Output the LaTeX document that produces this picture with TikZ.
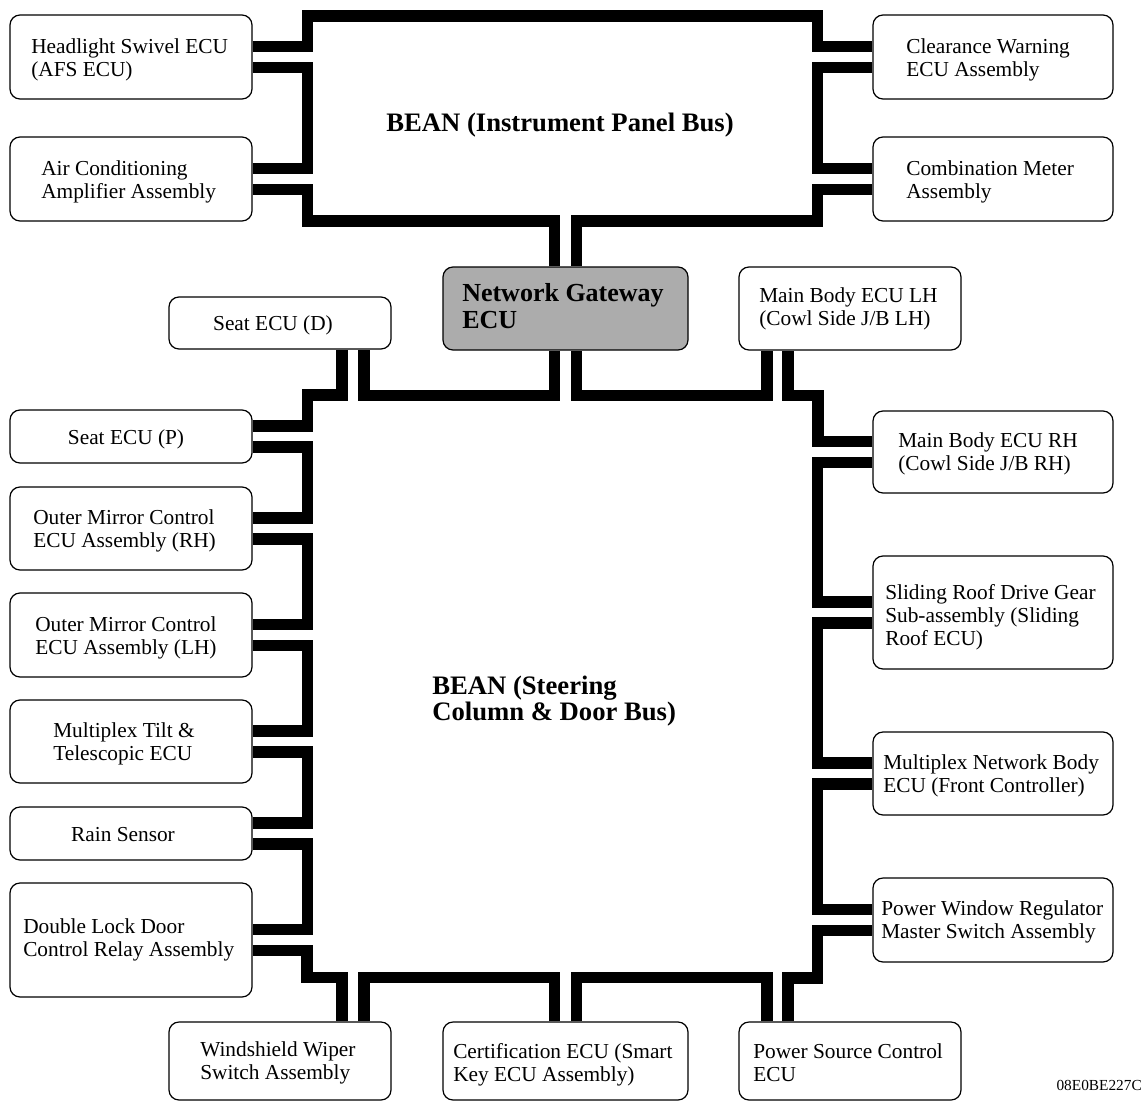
\documentclass[tikz,border=0pt]{standalone}
\usepackage{fontspec}
\setmainfont{Liberation Serif}
\usetikzlibrary{calc,fit}
\newcommand\leftlink[2]{\draw[bus] ($(#1.east)+(0,10.5)$) -| ($(#2.east)+(55,-10.5)$) -- ($(#2.east)+(0,-10.5)$);}
\newcommand\rightlink[2]{\draw[bus] ($(#1.west)+(0,-10.5)$) -| ($(#2.west)+(-55,10.5)$) -- ($(#2.west)+(0,10.5)$);}
\begin{document}
\begin{tikzpicture}[x=0.75pt,y=-0.75pt,
  bus/.style={line width=8.6pt, line join=miter, line cap=butt},
  ecu/.style={draw, line width=0.9pt, rounded corners=7.5pt, fill=white, inner sep=0pt},
  gwbox/.style={ecu, fill=gray!65},
  lbl/.style={inner sep=0pt, align=left, yshift=-2.25pt, font=\fontsize{16}{17.25}\selectfont},
  ctr/.style={inner sep=0pt, align=center, yshift=-1.5pt, font=\fontsize{16}{17.25}\selectfont},
  title/.style={inner sep=0pt, align=left, yshift=-2.25pt, font=\fontsize{20}{19}\selectfont\bfseries},
  gwtext/.style={inner sep=0pt, align=left, font=\fontsize{19.5}{20.5}\selectfont\bfseries},
  code/.style={inner sep=0pt, font=\fontsize{11.5}{13}\selectfont}]
\useasboundingbox (0,0) rectangle (1143,1103);
% boxes
\node[ecu, fit={(10,15) (252,99)}] (hl) {};
\node[ecu, fit={(10,137) (252,221)}] (ac) {};
\node[ecu, fit={(873,15) (1113,99)}] (cw) {};
\node[ecu, fit={(873,137) (1113,221)}] (cm) {};
\node[gwbox, fit={(443,267) (688,350)}] (gw) {};
\node[ecu, fit={(169,297) (391,349)}] (sd) {};
\node[ecu, fit={(739,267) (961,350)}] (mblh) {};
\node[ecu, fit={(10,410) (252,463)}] (sp) {};
\node[ecu, fit={(10,487) (252,570)}] (om1) {};
\node[ecu, fit={(10,593) (252,677)}] (om2) {};
\node[ecu, fit={(10,700) (252,783)}] (tilt) {};
\node[ecu, fit={(10,807) (252,860)}] (rain) {};
\node[ecu, fit={(10,883) (252,997)}] (dl) {};
\node[ecu, fit={(169,1022) (391,1100)}] (ws) {};
\node[ecu, fit={(443,1022) (688,1100)}] (ce) {};
\node[ecu, fit={(739,1022) (961,1100)}] (ps) {};
\node[ecu, fit={(873,411) (1113,493)}] (mbrh) {};
\node[ecu, fit={(873,556) (1113,669)}] (sr) {};
\node[ecu, fit={(873,732) (1113,815)}] (mnb) {};
\node[ecu, fit={(873,878) (1113,962)}] (pw) {};
% labels
\node[lbl, anchor=west] (hl-t) at (31,57) {Headlight Swivel ECU\\(AFS ECU)};
\node[lbl, anchor=west] (ac-t) at (41,179) {Air Conditioning\\Amplifier Assembly};
\node[lbl, anchor=west] (cw-t) at (906,57) {Clearance Warning\\ECU Assembly};
\node[lbl, anchor=west] (cm-t) at (906,179) {Combination Meter\\Assembly};
\node[gwtext, anchor=west] (gw-t) at (462,306) {Network Gateway\\ECU};
\node[ctr] (sd-t) at (273,323) {Seat ECU (D)};
\node[lbl, anchor=west] (mblh-t) at (759,306) {Main Body ECU LH\\(Cowl Side J/B LH)};
\node[ctr] (sp-t) at (126,437) {Seat ECU (P)};
\node[lbl, anchor=west] (om1-t) at (33,528) {Outer Mirror Control\\ECU Assembly (RH)};
\node[lbl, anchor=west] (om2-t) at (35,635) {Outer Mirror Control\\ECU Assembly (LH)};
\node[lbl, anchor=west] (tilt-t) at (53,741) {Multiplex Tilt \&\\Telescopic ECU};
\node[ctr] (rain-t) at (123,833) {Rain Sensor};
\node[lbl, anchor=west] (dl-t) at (23,937) {Double Lock Door\\Control Relay Assembly};
\node[lbl, anchor=west] (ws-t) at (200,1060) {Windshield Wiper\\Switch Assembly};
\node[lbl, anchor=west] (ce-t) at (453,1062) {Certification ECU (Smart\\Key ECU Assembly)};
\node[lbl, anchor=west] (ps-t) at (753,1060) {Power Source Control\\ECU};
\node[lbl, anchor=west] (mbrh-t) at (898,451) {Main Body ECU RH\\(Cowl Side J/B RH)};
\node[lbl, anchor=west] (sr-t) at (885,614) {Sliding Roof Drive Gear\\Sub-assembly (Sliding\\Roof ECU)};
\node[lbl, anchor=west] (mnb-t) at (883,773) {Multiplex Network Body\\ECU (Front Controller)};
\node[lbl, anchor=west] (pw-t) at (881,919) {Power Window Regulator\\Master Switch Assembly};
\node[title] (ipbus) at (560,122) {BEAN (Instrument Panel Bus)};
\node[title, anchor=west] (scbus) at (432,698) {BEAN (Steering\\Column \& Door Bus)};
\node[code, anchor=east] (code) at (1142,1085) {08E0BE227C};
% instrument panel bus
\draw[bus] ($(gw.north)+(-11,0)$) |- ($(ac.east)+(55,42)$) |- ($(ac.east)+(0,10.5)$);
\draw[bus] ($(ac.east)+(0,-10.5)$) -| ($(hl.east)+(55,10.5)$) -- ($(hl.east)+(0,10.5)$);
\draw[bus] ($(hl.east)+(0,-10.5)$) -| ($(hl.east)+(55,-41)$) -| ($(cw.west)+(-55,-10.5)$) -- ($(cw.west)+(0,-10.5)$);
\draw[bus] ($(cw.west)+(0,10.5)$) -| ($(cm.west)+(-55,-10.5)$) -- ($(cm.west)+(0,-10.5)$);
\draw[bus] ($(cm.west)+(0,10.5)$) -| ($(cm.west)+(-55,42)$) -| ($(gw.north)+(11,0)$);
% steering column & door bus
\draw[bus] ($(gw.south)+(-11,0)$) |- ($(sd.south)+(84,46)$) -- ($(sd.south)+(84,0)$);
\draw[bus] ($(sd.south)+(62,0)$) |- ($(sp.east)+(55,-41.5)$) |- ($(sp.east)+(0,-10.5)$);
\leftlink{sp}{om1}
\leftlink{om1}{om2}
\leftlink{om2}{tilt}
\leftlink{tilt}{rain}
\leftlink{rain}{dl}
\draw[bus] ($(dl.east)+(0,10.5)$) -| ($(ws.north)+(27,-44)$) -| ($(ws.north)+(62,0)$);
\draw[bus] ($(ws.north)+(84,0)$) |- ($(ce.north)+(-11,-44)$) -- ($(ce.north)+(-11,0)$);
\draw[bus] ($(ce.north)+(11,0)$) |- ($(ps.north)+(-83,-44)$) -- ($(ps.north)+(-83,0)$);
\draw[bus] ($(ps.north)+(-62,0)$) |- ($(pw.west)+(-55,58)$) |- ($(pw.west)+(0,10.5)$);
\rightlink{pw}{mnb}
\rightlink{mnb}{sr}
\rightlink{sr}{mbrh}
\draw[bus] ($(mbrh.west)+(0,-10.5)$) -| ($(mblh.south)+(-32,45)$) -| ($(mblh.south)+(-62,0)$);
\draw[bus] ($(mblh.south)+(-83,0)$) |- ($(gw.south)+(11,45)$) -- ($(gw.south)+(11,0)$);
\end{tikzpicture}
\end{document}
